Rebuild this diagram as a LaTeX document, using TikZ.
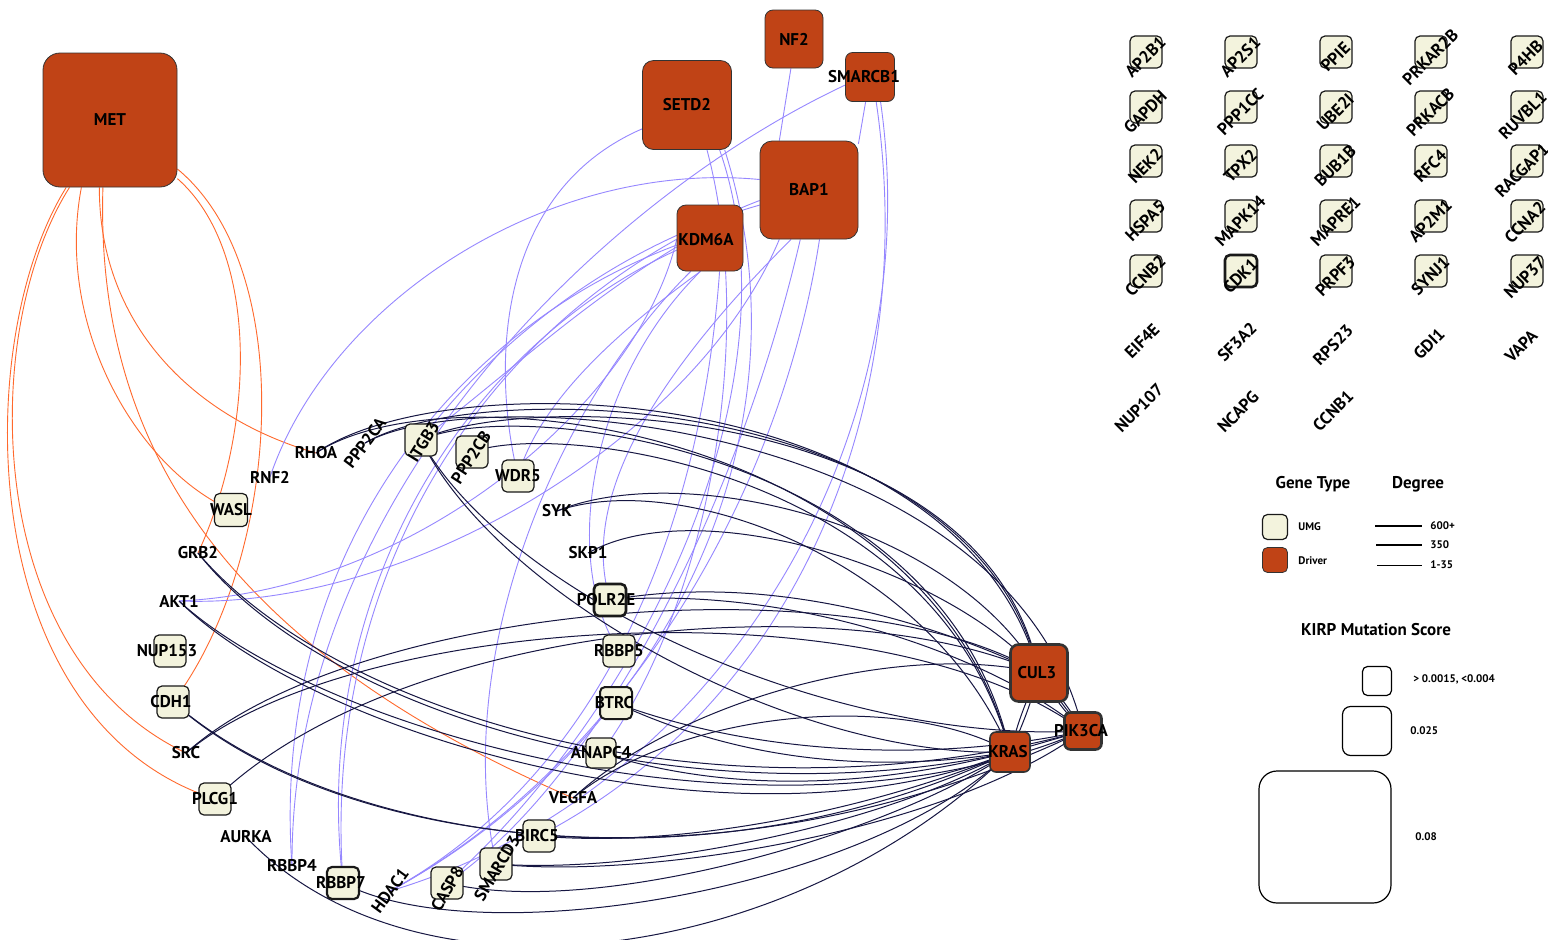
\documentclass[tikz,border=0pt]{standalone}
\usepackage{fontspec}
\setmainfont{PT Sans}
\pgfdeclarelayer{bg}
\pgfdeclarelayer{edges}
\pgfsetlayers{bg,edges,main}

\definecolor{drv}{RGB}{192,67,22}
\definecolor{umgc}{RGB}{243,243,221}
\definecolor{lav}{RGB}{150,135,255}
\definecolor{navyc}{RGB}{22,22,66}
\definecolor{orng}{RGB}{255,105,45}

\tikzset{
  lbl/.style={font=\bfseries\fontsize{8.5}{9}\selectfont, inner sep=0pt},
  smalltxt/.style={font=\bfseries\fontsize{5.5}{6}\selectfont, inner sep=0pt},
  drvbox/.style={draw=black!80, line width=0.4pt, fill=drv, inner sep=0pt, rounded corners=#1},
  drvbox/.default=3pt,
  umgbox/.style={draw=black!90, line width=0.6pt, fill=umgc, minimum size=16pt, inner sep=0pt, rounded corners=2.5pt},
  heavy/.style={line width=1.3pt},
  orangeedge/.style={draw=orng, line width=0.45pt},
  lavedge/.style={draw=lav, line width=0.45pt},
  navyedge/.style={draw=navyc, line width=0.5pt},
}

\begin{document}
\begin{tikzpicture}[x=0.5pt, y=-0.5pt]
\useasboundingbox (0,0) rectangle (1548,939);
\begin{pgfonlayer}{bg}
  \fill[white] (0,0) rectangle (1548,939);
\end{pgfonlayer}

% ---- driver genes ----
\node[drvbox=8.5pt, minimum size=67pt, label={[lbl]center:MET}] (met) at (110,120) {};
\node[drvbox=4pt, minimum size=29pt, label={[lbl]center:NF2}] (nf2) at (794,39) {};
\node[drvbox=5.5pt, minimum size=44.5pt, label={[lbl]center:SETD2}] (setd2) at (687,105) {};
\node[drvbox=3.5pt, minimum size=24.5pt, label={[lbl,xshift=-3pt]center:SMARCB1}] (smarcb1) at (870,77) {};
\node[drvbox=6pt, minimum size=49pt, label={[lbl]center:BAP1}] (bap1) at (809,190) {};
\node[drvbox=4.5pt, minimum size=33pt, label={[lbl,xshift=-2pt,yshift=-1pt]center:KDM6A}] (kdm6a) at (710,238) {};
\node[drvbox=4pt, heavy, minimum size=28.5pt, label={[lbl,xshift=-1pt]center:CUL3}] (cul3) at (1039,673) {};
\node[drvbox=3pt, heavy, minimum size=18.5pt, label={[lbl,xshift=-1pt]center:PIK3CA}] (pik3ca) at (1083,731) {};
\node[drvbox=3pt, line width=0.8pt, minimum size=20pt, label={[lbl,xshift=-1pt]center:KRAS}] (kras) at (1010,752) {};

% ---- UMG genes with boxes ----
\node[umgbox, label={[lbl,rotate=58,yshift=-1.5pt]center:ITGB3}] (itgb3) at (421,440) {};
\node[umgbox, label={[lbl,rotate=57,xshift=-2.5pt,yshift=-1pt]center:PPP2CB}] (ppp2cb) at (472,452) {};
\node[umgbox, label={[lbl]center:WDR5}] (wdr5) at (518,476) {};
\node[umgbox, minimum size=16.5pt, label={[lbl]center:WASL}] (wasl) at (231,510) {};
\node[umgbox, label={[lbl,xshift=-1.5pt]center:NUP153}] (nup153) at (170,651) {};
\node[umgbox, label={[lbl,xshift=-1pt]center:CDH1}] (cdh1) at (173,702) {};
\node[umgbox, label={[lbl]center:PLCG1}] (plcg1) at (215,799) {};
\node[umgbox, heavy, label={[lbl,xshift=-2pt]center:POLR2E}] (polr2e) at (610,600) {};
\node[umgbox, label={[lbl]center:RBBP5}] (rbbp5) at (619,651) {};
\node[umgbox, line width=1pt, label={[lbl,xshift=-1pt]center:BTRC}] (btrc) at (616,703) {};
\node[umgbox, minimum size=15pt, label={[lbl]center:ANAPC4}] (anapc4) at (601,753) {};
\node[umgbox, label={[lbl,xshift=-1pt]center:BIRC5}] (birc5) at (539,836) {};
\node[umgbox, label={[lbl,rotate=59,xshift=-1.5pt,yshift=-1.5pt]center:SMARCD3}] (smarcd3) at (496,864) {};
\node[umgbox, label={[lbl,rotate=60,xshift=-2.5pt,yshift=-1.5pt]center:CASP8}] (casp8) at (447,883) {};
\node[umgbox, line width=1.1pt, label={[lbl,xshift=-1pt]center:RBBP7}] (rbbp7) at (343,883) {};

% ---- UMG genes shown by name only ----
\node[lbl] (rhoa) at (316,453) {RHOA};
\node[lbl, rotate=53] (ppp2ca) at (365,443) {PPP2CA};
\node[lbl] (rnf2) at (270,477) {RNF2};
\node[lbl] (grb2) at (198,553) {GRB2};
\node[lbl] (syk) at (557,511) {SYK};
\node[lbl] (skp1) at (588,553) {SKP1};
\node[lbl] (akt1) at (179,601) {AKT1};
\node[lbl] (src) at (186,753) {SRC};
\node[lbl] (vegfa) at (573,798) {VEGFA};
\node[lbl] (aurka) at (246,837) {AURKA};
\node[lbl] (rbbp4) at (292,866) {RBBP4};
\node[lbl, rotate=54] (hdac1) at (390,891) {HDAC1};

% ---- unconnected genes ----
\foreach \gx/\gy/\gname in {1146/52/AP2B1,1241/52/AP2S1,1336/52/PPIE,1431/52/PRKAR2B,
  1146/107/GAPDH,1241/107/PPP1CC,1336/107/UBE2I,1431/107/PRKACB,
  1146/161/NEK2,1241/161/TPX2,1336/161/BUB1B,1431/161/RFC4,
  1146/216/HSPA5,1241/216/MAPK14,1336/216/MAPRE1,1431/216/AP2M1,
  1146/271/CCNB2,1336/271/PRPF3,1431/271/SYNJ1}
  \node[umgbox, label={[lbl,rotate=45,xshift=-2pt,yshift=-1.5pt]center:\gname}] (\gname) at (\gx,\gy) {};
\foreach \gx/\gy/\gname/\gs in {1527/52/P4HB/-2.5pt,1527/107/RUVBL1/-4.5pt,1527/161/RACGAP1/-5pt,1527/216/CCNA2/-3pt,1527/271/NUP37/-3pt}
  \node[umgbox, label={[lbl,rotate=45,xshift=\gs,yshift=-1.5pt]center:\gname}] (\gname) at (\gx,\gy) {};
\node[umgbox, heavy, label={[lbl,rotate=45,xshift=-2pt,yshift=-1.5pt]center:CDK1}] (CDK1) at (1241,271) {};
\foreach \gx/\gy/\gname in {1142/341/EIF4E,1237/342/SF3A2,1333/345/RPS23,1429/344/GDI1,1521/346/VAPA,
  1139/408/NUP107,1238/412/NCAPG,1333/411/CCNB1}
  \node[lbl, rotate=45] (\gname) at (\gx,\gy) {\gname};

% ---- interactions ----
\begin{pgfonlayer}{edges}
% MET
\draw[orangeedge] (met.261) .. controls +(0,143) and +(-116,-33) .. (rhoa.center);
\draw[orangeedge] (met.247) .. controls +(-27,142) and +(-91,-40) .. (wasl.center);
\draw[orangeedge] (met.319) .. controls +(83,73) and +(57,-123) .. (grb2.center);
\draw[orangeedge] (met.264) .. controls +(-8,262) and +(-343,-148) .. (vegfa.center);
\draw[orangeedge] (met.324) .. controls +(123,102) and +(107,-142) .. (cdh1.center);
\draw[orangeedge] (met.239) .. controls +(-90,142) and +(-206,-98) .. (src.center);
\draw[orangeedge] (met.237) .. controls +(-95,152) and +(-243,-79) .. (plcg1.center);

% NF2, SETD2, SMARCB1, BAP1, KDM6A
\draw[lavedge] (nf2.264) -- (bap1.121);
\draw[lavedge] (smarcb1.260) -- (bap1.43);
\draw[lavedge] (smarcb1.198) .. controls +(-245,115) and +(-2,-366) .. (rbbp4.center);
\draw[lavedge] (bap1.168) .. controls +(-210,-20) and +(60,-177) .. (rnf2.center);
\draw[lavedge] (setd2.208) .. controls +(-143,62) and +(-28,-116) .. (wdr5.center);
\draw[lavedge] (setd2.294) .. controls +(53,200) and +(99,-133) .. (anapc4.center);
\draw[lavedge] (setd2.306) .. controls +(80,230) and +(203,-183) .. (casp8.center);
\draw[lavedge] (kdm6a.192) .. controls +(-227,85) and +(-22,-306) .. (rbbp4.center);
\draw[lavedge] (kdm6a.200) .. controls +(-217,100) and +(-33,-283) .. (rbbp7.center);
\draw[lavedge] (kdm6a.286) .. controls +(-20,278) and +(200,-110) .. (hdac1.center);
\draw[lavedge] (kdm6a.183) .. controls +(-37,160) and +(241,-11) .. (akt1.center);
\draw[lavedge] (bap1.239) .. controls +(-80,191) and +(241,9) .. (akt1.center);
\draw[lavedge] (bap1.192) .. controls +(-260,100) and +(-23,-323) .. (rbbp7.center);
\draw[lavedge] (bap1.282) .. controls +(-40,260) and +(230,-125) .. (hdac1.center);
\draw[lavedge] (kdm6a.254) .. controls +(-110,108) and +(-59,-91) .. (rbbp5.center);
\draw[lavedge] (smarcb1.284) .. controls +(44,299) and +(261,-136) .. (birc5.center);
\draw[lavedge] (smarcb1.293) .. controls +(50,349) and +(320,-95) .. (hdac1.center);
\draw[lavedge] (kdm6a.240) .. controls +(-130,128) and +(-46,-214) .. (smarcd3.center);
\draw[lavedge] (bap1.260) .. controls +(-60,260) and +(153,-103) .. (casp8.center);
\draw[lavedge] (kdm6a.195) .. controls +(-100,60) and +(80,-60) .. (itgb3.center);
\draw[lavedge] (bap1.197) .. controls +(-160,45) and +(59,-80) .. (itgb3.center);
\draw[lavedge] (setd2.310) .. controls +(95,300) and +(260,-140) .. (hdac1.center);
\draw[lavedge] (kdm6a.254) .. controls +(-80,58) and +(22,-76) .. (wdr5.center);
\draw[lavedge] (bap1.250) .. controls +(-140,140) and +(-30,-100) .. (polr2e.center);

% CUL3, KRAS, PIK3CA
\draw[navyedge] (rhoa.center) .. controls +(134,-93) and +(-79,-293) .. (cul3.center);
\draw[navyedge] (rhoa.center) .. controls +(134,-88) and +(-80,-322) .. (kras.center);
\draw[navyedge] (ppp2ca.center) .. controls +(114,-68) and +(-64,-283) .. (cul3.center);
\draw[navyedge] (ppp2ca.center) .. controls +(114,-65) and +(-73,-311) .. (pik3ca.center);
\draw[navyedge] (itgb3.center) .. controls +(99,-50) and +(-54,-273) .. (cul3.center);
\draw[navyedge] (itgb3.center) .. controls +(99,-45) and +(-65,-302) .. (kras.center);
\draw[navyedge] (ppp2cb.center) .. controls +(88,-32) and +(-75,-282) .. (kras.center);
\draw[navyedge] (itgb3.center) .. controls +(79,160) and +(-210,8) .. (kras.center);
\draw[navyedge] (itgb3.center) .. controls +(84,155) and +(-253,14) .. (pik3ca.center);
\draw[navyedge] (syk.center) .. controls +(123,-51) and +(-89,-153) .. (cul3.center);
\draw[navyedge] (syk.center) .. controls +(123,-43) and +(-80,-192) .. (kras.center);
\draw[navyedge] (skp1.center) .. controls +(112,-63) and +(-89,-103) .. (cul3.center);
\draw[navyedge] (polr2e.center) .. controls +(170,-30) and +(-89,-43) .. (cul3.center);
\draw[navyedge] (polr2e.center) .. controls +(190,-15) and +(-83,-71) .. (pik3ca.center);
\draw[navyedge] (src.center) .. controls +(164,-148) and +(-189,-113) .. (cul3.center);
\draw[navyedge] (src.center) .. controls +(164,-138) and +(-203,-151) .. (pik3ca.center);
\draw[navyedge] (plcg1.center) .. controls +(185,-179) and +(-189,-88) .. (cul3.center);
\draw[navyedge] (akt1.center) .. controls +(141,139) and +(-260,108) .. (kras.center);
\draw[navyedge] (akt1.center) .. controls +(146,134) and +(-303,129) .. (pik3ca.center);
\draw[navyedge] (grb2.center) .. controls +(132,167) and +(-310,68) .. (kras.center);
\draw[navyedge] (grb2.center) .. controls +(137,162) and +(-363,99) .. (pik3ca.center);
\draw[navyedge] (cdh1.center) .. controls +(157,138) and +(-310,148) .. (kras.center);
\draw[navyedge] (cdh1.center) .. controls +(157,143) and +(-363,174) .. (pik3ca.center);
\draw[navyedge] (aurka.center) .. controls +(174,183) and +(-210,208) .. (kras.center);
\draw[navyedge] (rbbp7.center) .. controls +(137,72) and +(-140,138) .. (kras.center);
\draw[navyedge] (casp8.center) .. controls +(153,37) and +(-110,78) .. (kras.center);
\draw[navyedge] (smarcd3.center) .. controls +(154,16) and +(-133,99) .. (pik3ca.center);
\draw[navyedge] (smarcd3.center) .. controls +(154,11) and +(-110,68) .. (kras.center);
\draw[navyedge] (birc5.center) .. controls +(161,14) and +(-110,48) .. (kras.center);
\draw[navyedge] (vegfa.center) .. controls +(107,-98) and +(-139,-33) .. (cul3.center);
\draw[navyedge] (vegfa.center) .. controls +(107,-88) and +(-110,-62) .. (kras.center);
\draw[navyedge] (anapc4.center) .. controls +(149,47) and +(-110,28) .. (kras.center);
\draw[navyedge] (btrc.center) .. controls +(144,67) and +(-110,18) .. (kras.center);
\draw[navyedge] (btrc.center) .. controls +(154,57) and +(-133,29) .. (pik3ca.center);
\draw[navyedge] (cul3.center) to[bend left=6] (pik3ca.center);
\draw[navyedge] (cul3.center) -- (pik3ca.center);
\draw[navyedge] (cul3.center) to[bend right=6] (pik3ca.center);
\draw[navyedge] (kras.center) -- (pik3ca.center);
\draw[navyedge] (cul3.center) to[bend right=5] (kras.center);
\draw[navyedge] (cul3.center) to[bend left=5] (kras.center);
\end{pgfonlayer}

% ---- legend ----
\node[lbl] (gtype) at (1313,484) {Gene Type};
\node[lbl] (degree) at (1418,484) {Degree};
\node[umgbox, minimum size=12.5pt] (legumg) at (1275,527) {};
\node[drvbox=2.5pt, minimum size=12.5pt] (legdrv) at (1275,560) {};
\node[smalltxt, anchor=west] (legumgt) at (1298,527) {UMG};
\node[smalltxt, anchor=west] (legdrvt) at (1298,561) {Driver};
\coordinate (dga) at (1375,526); \coordinate (dgb) at (1422,526);
\coordinate (dgc) at (1376,545); \coordinate (dgd) at (1422,545);
\coordinate (dge) at (1377,565); \coordinate (dgf) at (1422,565);
\draw[line width=1.4pt] (dga) -- (dgb);
\draw[line width=0.9pt] (dgc) -- (dgd);
\draw[line width=0.45pt] (dge) -- (dgf);
\node[smalltxt, anchor=west] (dg1) at (1430,526) {600+};
\node[smalltxt, anchor=west] (dg2) at (1430,545) {350};
\node[smalltxt, anchor=west] (dg3) at (1430,565) {1-35};

\node[lbl] (kirp) at (1376,630) {KIRP Mutation Score};
\node[draw, line width=0.6pt, fill=white, minimum size=14.5pt, inner sep=0pt, rounded corners=2.5pt] (sq1) at (1377,681) {};
\node[draw, line width=0.6pt, fill=white, minimum size=24.5pt, inner sep=0pt, rounded corners=4pt] (sq2) at (1367,731) {};
\node[draw, line width=0.6pt, fill=white, minimum size=66pt, inner sep=0pt, rounded corners=9pt] (sq3) at (1325,837) {};
\node[smalltxt, anchor=west] (sq1t) at (1413,679) {> 0.0015, <0.004};
\node[smalltxt, anchor=west] (sq2t) at (1410,731) {0.025};
\node[smalltxt, anchor=west] (sq3t) at (1415,837) {0.08};
\end{tikzpicture}
\end{document}
